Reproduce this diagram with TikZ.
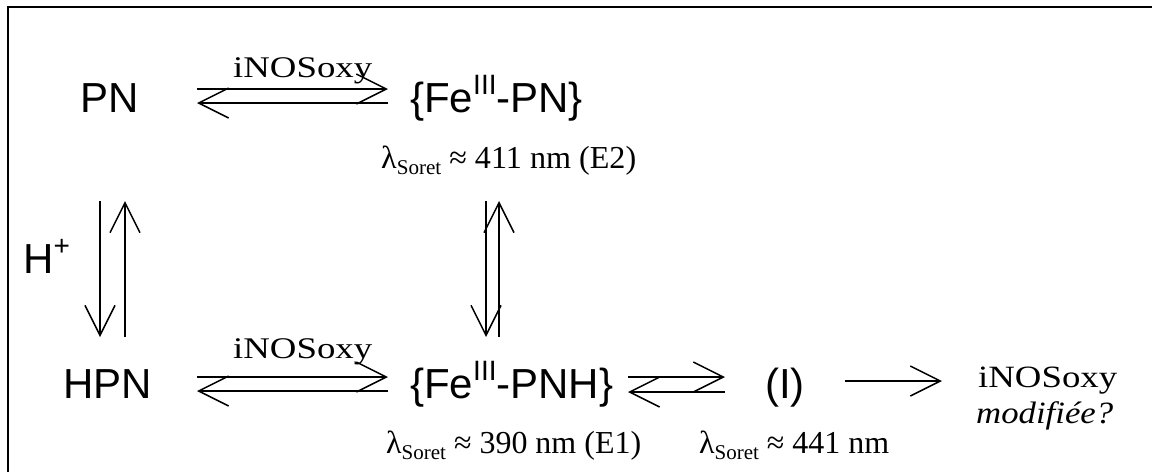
\documentclass[tikz,border=0pt]{standalone}
\usepackage{fontspec}
\setmainfont{Liberation Serif}
\newfontfamily\arialfont{Liberation Sans}
\usetikzlibrary{arrows.meta}
\newcommand\fitw[2]{\resizebox{#1}{\height}{#2}}
\newcommand\lamS{λ\raisebox{-0.2em}{\fontsize{21}{21}\selectfont Soret}}
\newcommand\supr[1]{\raisebox{0.42em}{\fontsize{28}{28}\selectfont #1}}
\begin{document}
\begin{tikzpicture}[x=1pt,y=-1pt,
  chem/.style={font=\arialfont\fontsize{42}{42}\selectfont, inner sep=0pt, anchor=base west},
  lbl/.style={font=\fontsize{30}{30}\selectfont, inner sep=0pt, anchor=base west},
  lbltwo/.style={font=\fontsize{31}{31}\selectfont, inner sep=0pt, anchor=base west},
  lam/.style={font=\fontsize{32}{32}\selectfont, inner sep=0pt, anchor=base west},
  rxn/.style={line width=1.5pt, -{Straight Barb[length=30pt,width=30pt,line width=1.5pt]}},
  frameline/.style={line width=2pt}]
\useasboundingbox (0,0) rectangle (1152,472);
% frame (top and left sides visible)
\draw[frameline] (7.7,472) -- (7.7,6.5) -- (1152,6.5);
% species
\node[chem] (PN) at (80,112) {PN};
\node[chem] (FePN) at (410,112) {\{Fe\supr{III}-PN\}};
\node[chem] (Hp) at (23,273) {H\supr{+}};
\node[chem] (HPN) at (63,398) {HPN};
\node[chem] (FePNH) at (410,398) {\{Fe\supr{III}-PNH\}};
\node[chem] (I) at (765,398) {(I)};
% labels
\node[lbl] (t1) at (233,77) {\fitw{139pt}{iNOSoxy}};
\node[lbl] (t2) at (233,358) {\fitw{139pt}{iNOSoxy}};
\node[lam] (l1) at (381,168) {\fitw{255pt}{\lamS{} ≈ 411 nm (E2)}};
\node[lam] (l2) at (386,453) {\fitw{255pt}{\lamS{} ≈ 390 nm (E1)}};
\node[lam] (l3) at (699,453) {\fitw{190pt}{\lamS{} ≈ 441 nm}};
\node[lbltwo] (t3) at (978,387) {\fitw{139pt}{iNOSoxy}};
\node[lbltwo] (t4) at (976,423) {\fitw{137pt}{\itshape modifiée?}};
% arrow end points
\coordinate (a1) at (197,89);  \coordinate (a2) at (388,89);
\coordinate (a3) at (388,103); \coordinate (a4) at (197,103);
\coordinate (b1) at (197,377); \coordinate (b2) at (388,377);
\coordinate (b3) at (388,391); \coordinate (b4) at (197,391);
\coordinate (c1) at (628,377); \coordinate (c2) at (725,377);
\coordinate (c3) at (725,392); \coordinate (c4) at (628,392);
\coordinate (d1) at (845,381); \coordinate (d2) at (942,381);
\coordinate (v1) at (100,201); \coordinate (v2) at (100,337);
\coordinate (v3) at (125,337); \coordinate (v4) at (125,201);
\coordinate (w1) at (486,201); \coordinate (w2) at (486,337);
\coordinate (w3) at (499,337); \coordinate (w4) at (499,201);
% arrows
\draw[rxn] (a1) -- (a2);
\draw[rxn] (a3) -- (a4);
\draw[rxn] (b1) -- (b2);
\draw[rxn] (b3) -- (b4);
\draw[rxn] (c1) -- (c2);
\draw[rxn] (c3) -- (c4);
\draw[rxn] (d1) -- (d2);
\draw[rxn] (v1) -- (v2);
\draw[rxn] (v3) -- (v4);
\draw[rxn] (w1) -- (w2);
\draw[rxn] (w3) -- (w4);
\end{tikzpicture}
\end{document}
